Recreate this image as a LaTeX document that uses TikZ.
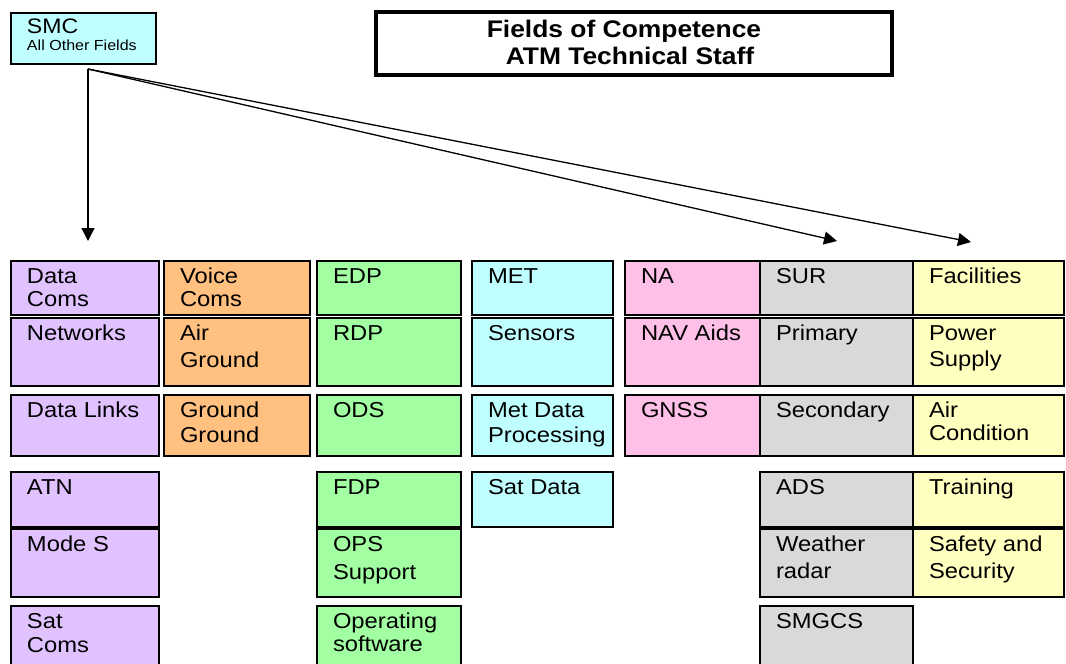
\documentclass[tikz,border=0pt]{standalone}
\usepackage{fontspec}
\setmainfont{Liberation Sans}[FakeStretch=1.1]
\usetikzlibrary{arrows.meta}

% fills of the competence groups
\definecolor{purplebox}{RGB}{224,194,255}
\definecolor{orangebox}{RGB}{255,192,128}
\definecolor{greenbox}{RGB}{162,255,162}
\definecolor{cyanbox}{RGB}{192,255,255}
\definecolor{pinkbox}{RGB}{255,192,232}
\definecolor{graybox}{RGB}{217,217,217}
\definecolor{yellowbox}{RGB}{255,255,192}

\tikzset{
  fieldframe/.style={draw=black, line width=1.5pt, inner sep=0pt, outer sep=0pt, anchor=north west},
  fieldlabel/.style={inner sep=0pt, outer sep=0pt, anchor=base west, text=black,
    font=\fontsize{21.6}{23}\selectfont},
  titleframe/.style={draw=black, fill=white, line width=3.6pt, inner sep=0pt, outer sep=0pt},
  titlelabel/.style={inner sep=0pt, outer sep=0pt, anchor=base, text=black,
    font=\bfseries\fontsize{24}{27}\selectfont},
  conn/.style={line width=1.3pt, -{Triangle[length=13pt,width=13pt]}},
}

% #1 name, #2 fill, #3 left, #4 top, #5 right, #6 bottom, #7 line distance, #8 text
\newcommand\fieldbox[8]{%
  \node[fieldframe, fill=#2, minimum width=#5pt-#3pt, minimum height=#6pt-#4pt] (#1) at (#3,#4) {};
  \node[fieldlabel] (#1-label) at ([xshift=16pt,yshift=-22pt]#1.north west)
    {\parbox[t]{140pt}{\raggedright\lineskiplimit=-100pt\baselineskip=#7pt #8}};
}

\begin{document}
\begin{tikzpicture}[x=1pt, y=-1pt]
\useasboundingbox (0,0) rectangle (1066,664);
\clip (0,0) rectangle (1066,664);

% heading
\node[titleframe, minimum width=516pt, minimum height=63pt] (title) at (634,43.5) {};
\node[titlelabel] (title-label) at (624,37)
  {\parbox[t]{330pt}{\centering\lineskiplimit=-100pt\baselineskip=27pt Fields of Competence\\\hspace*{12pt}ATM Technical Staff}};

% SMC box
\node[fieldframe, fill=cyanbox, minimum width=145pt, minimum height=51pt] (smc) at (11,13) {};
\node[inner sep=0pt, outer sep=0pt, anchor=base west] (smc-label) at (27,33)
  {\parbox[t]{130pt}{\raggedright\lineskiplimit=-100pt\fontsize{21}{20}\selectfont SMC\\\fontsize{14.6}{17}\selectfont All Other Fields}};

% column 1: data communications
\fieldbox{datacoms}{purplebox}{11}{261}{159}{315}{23}{Data\\Coms}
\fieldbox{networks}{purplebox}{11}{318}{159}{386}{23}{Networks}
\fieldbox{datalinks}{purplebox}{11}{395}{159}{456}{23}{Data Links}
\fieldbox{atn}{purplebox}{11}{472}{159}{527}{23}{ATN}
\fieldbox{modes}{purplebox}{11}{529}{159}{597}{23}{Mode S}
\fieldbox{satcoms}{purplebox}{11}{606}{159}{690}{24}{Sat\\Coms}

% column 2: voice communications
\fieldbox{voicecoms}{orangebox}{164}{261}{310}{315}{23}{Voice\\Coms}
\fieldbox{airground}{orangebox}{164}{318}{310}{386}{27.5}{Air\\Ground}
\fieldbox{groundground}{orangebox}{164}{395}{310}{456}{25}{Ground\\Ground}

% column 3: data processing
\fieldbox{edp}{greenbox}{317}{261}{461}{315}{23}{EDP}
\fieldbox{rdp}{greenbox}{317}{318}{461}{386}{23}{RDP}
\fieldbox{ods}{greenbox}{317}{395}{461}{456}{23}{ODS}
\fieldbox{fdp}{greenbox}{317}{472}{461}{527}{23}{FDP}
\fieldbox{ops}{greenbox}{317}{529}{461}{597}{28}{OPS\\Support}
\fieldbox{opsw}{greenbox}{317}{606}{461}{690}{23}{Operating\\software}

% column 4: meteorology
\fieldbox{met}{cyanbox}{472}{261}{613}{315}{23}{MET}
\fieldbox{sensors}{cyanbox}{472}{318}{613}{386}{23}{Sensors}
\fieldbox{metdata}{cyanbox}{472}{395}{613}{456}{25}{Met Data\\Processing}
\fieldbox{satdata}{cyanbox}{472}{472}{613}{527}{23}{Sat Data}

% column 5: navigation
\fieldbox{na}{pinkbox}{625}{261}{760}{315}{23}{NA}
\fieldbox{navaids}{pinkbox}{625}{318}{760}{386}{23}{NAV Aids}
\fieldbox{gnss}{pinkbox}{625}{395}{760}{456}{23}{GNSS}

% column 6: surveillance
\fieldbox{sur}{graybox}{760}{261}{913}{315}{23}{SUR}
\fieldbox{primary}{graybox}{760}{318}{913}{386}{23}{Primary}
\fieldbox{secondary}{graybox}{760}{395}{913}{456}{23}{Secondary}
\fieldbox{ads}{graybox}{760}{472}{913}{527}{23}{ADS}
\fieldbox{wxradar}{graybox}{760}{529}{913}{597}{27.5}{Weather\\radar}
\fieldbox{smgcs}{graybox}{760}{606}{913}{690}{23}{SMGCS}

% column 7: facilities
\fieldbox{facilities}{yellowbox}{913}{261}{1064}{315}{23}{Facilities}
\fieldbox{power}{yellowbox}{913}{318}{1064}{386}{26}{Power\\Supply}
\fieldbox{aircond}{yellowbox}{913}{395}{1064}{456}{23.5}{Air\\Condition}
\fieldbox{training}{yellowbox}{913}{472}{1064}{527}{23}{Training}
\fieldbox{safety}{yellowbox}{913}{529}{1064}{597}{27}{Safety and\\Security}

% arrows fanning out from the SMC box
\coordinate (fan) at (88,69);
\coordinate (tipA) at (88,241);
\coordinate (tipB) at (837,241);
\coordinate (tipC) at (971,242);
\draw[conn] (fan) -- (tipA);
\draw[conn] (fan) -- (tipB);
\draw[conn] (fan) -- (tipC);
\end{tikzpicture}
\end{document}
